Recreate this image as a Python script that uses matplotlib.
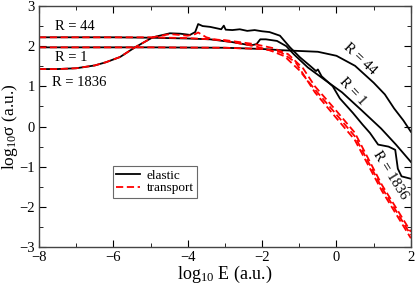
import matplotlib
matplotlib.use("Agg")
import matplotlib.pyplot as plt
from matplotlib.ticker import MultipleLocator

plt.rcParams['font.family'] = ['Liberation Serif', 'DejaVu Serif']
plt.rcParams['mathtext.fontset'] = 'custom'
plt.rcParams['mathtext.rm'] = 'Liberation Serif'
plt.rcParams['mathtext.it'] = 'Liberation Serif:italic'

# elastic curves (log10 E, log10 sigma), named by low-energy label
el44_x = [-8, -6, -5, -4.5, -4, -3.4, -2.8, -2.3, -2.15, -2.05, -1.9, -1.6, -1.35, -1.15, -0.77, -0.3, 0.15, 0.68, 1.2, 1.6, 2.0]
el44_y = [2.22, 2.22, 2.21, 2.2, 2.19, 2.17, 2.1, 2.02, 2.05, 2.17, 2.17, 2.13, 2.0, 1.8, 1.47, 1.15, 0.85, 0.4, -0.05, -0.45, -0.88]

el1_x = [-8, -5, -3, -2, -1.5, -1.0, -0.5, 0.0, 0.5, 1.0, 1.3, 1.55, 1.8, 2.0]
el1_y = [1.97, 1.97, 1.96, 1.93, 1.9, 1.88, 1.86, 1.76, 1.51, 1.09, 0.8, 0.45, 0.15, -0.13]

el1836_x = [-8, -7.5, -7, -6.5, -6.2, -5.82, -5.42, -4.94, -4.48, -4.2, -3.94, -3.8, -3.72, -3.6, -3.4, -3.1, -3.03, -2.98,
            -2.8, -2.6, -2.4, -2.2, -2.0, -1.8, -1.52, -1.25, -0.98, -0.71, -0.55, -0.5, -0.4, -0.1, 0.09, 0.44, 0.7,
            0.9, 1.12, 1.4, 1.58, 1.65, 1.75, 2.0]
el1836_y = [1.43, 1.43, 1.45, 1.52, 1.6, 1.73, 1.97, 2.22, 2.32, 2.31, 2.28, 2.35, 2.55, 2.5, 2.48, 2.42, 2.51, 2.41,
            2.4, 2.42, 2.38, 2.4, 2.37, 2.35, 2.26, 1.97, 1.72, 1.51, 1.38, 1.42, 1.25, 1.0, 0.7, 0.34, 0.05,
            -0.16, -0.45, -0.5, -0.58, -1.05, -1.24, -1.3]

# transport curves
tr44_x = [-8, -5, -4, -3, -2.2, -1.7, -1.3, -0.9, -0.58, -0.04, 0.49, 1.22, 2.0]
tr44_y = [2.22, 2.22, 2.2, 2.15, 2.05, 1.95, 1.8, 1.45, 1.0, 0.43, -0.15, -1.45, -2.62]

tr1_x = [-8, -5, -3, -2, -1.5, -1.1, -0.58, -0.04, 0.49, 1.22, 2.0]
tr1_y = [1.97, 1.97, 1.96, 1.93, 1.85, 1.6, 0.85, 0.25, -0.33, -1.6, -2.78]

tr1836_x = [-8, -7.5, -7, -6.5, -6.2, -5.82, -5.42, -4.94, -4.48, -4.0, -3.8, -3.72, -3.5, -3.3, -2.8, -2.2, -1.8, -1.4, -1.0,
            -0.58, -0.04, 0.49, 1.22, 2.0]
tr1836_y = [1.43, 1.43, 1.45, 1.52, 1.6, 1.73, 1.97, 2.22, 2.3, 2.26, 2.3, 2.34, 2.22, 2.17, 2.1, 2.0, 1.9, 1.75, 1.4,
            0.92, 0.34, -0.24, -1.52, -2.7]

fig = plt.figure(figsize=(4.15, 2.84), dpi=100)
ax = fig.add_axes([0.094, 0.130, 0.896, 0.849])

for x, y in [(el44_x, el44_y), (el1_x, el1_y), (el1836_x, el1836_y)]:
    ax.plot(x, y, color='black', lw=1.3)
for x, y in [(tr44_x, tr44_y), (tr1_x, tr1_y), (tr1836_x, tr1836_y)]:
    ax.plot(x, y, color='red', lw=1.3, ls=(0, (4, 2)))

ax.plot([], [], color='black', lw=1.3, label='elastic')
ax.plot([], [], color='red', lw=1.3, ls=(0, (4, 2)), label='transport')

ax.set_xlim(-8, 2)
ax.set_ylim(-3, 3)
ax.xaxis.set_major_locator(MultipleLocator(2))
ax.xaxis.set_minor_locator(MultipleLocator(1))
ax.yaxis.set_major_locator(MultipleLocator(1))
ax.yaxis.set_minor_locator(MultipleLocator(0.5))
ax.tick_params(which='both', direction='in', top=True, right=True, labelsize=10.5, pad=3)
ax.tick_params(which='major', length=5)
ax.tick_params(which='minor', length=3)
for s in ax.spines.values():
    s.set_linewidth(1.0)
    s.set_color('#444444')

ax.set_xlabel(r'log$_{10}$ E (a.u.)', fontsize=13, labelpad=0)
ax.set_ylabel(r'log$_{10}$σ (a.u.)', fontsize=12.5)
ax.yaxis.set_label_coords(-0.05, 0.5)

ax.text(-7.57, 2.5, 'R = 44', fontsize=10.5, va='center')
ax.text(-7.57, 1.72, 'R = 1', fontsize=10.5, va='center')
ax.text(-7.65, 1.1, 'R = 1836', fontsize=10.5, va='center')
ax.text(0.63, 1.68, 'R = 44', fontsize=10.5, ha='center', va='center', rotation=-43)
ax.text(0.44, 0.87, 'R = 1', fontsize=10.5, ha='center', va='center', rotation=-47)
ax.text(1.46, -1.22, 'R = 1836', fontsize=10.5, ha='center', va='center', rotation=-58)

leg = ax.legend(loc='upper left', bbox_to_anchor=(0.199, 0.336), fontsize=9.5, frameon=True, fancybox=False,
                handlelength=1.8, handletextpad=0.5, borderpad=0.25, labelspacing=0.05, borderaxespad=0)
leg.get_frame().set_edgecolor('#444444')
leg.get_frame().set_linewidth(0.8)

fig.savefig('out.png', dpi=100)
